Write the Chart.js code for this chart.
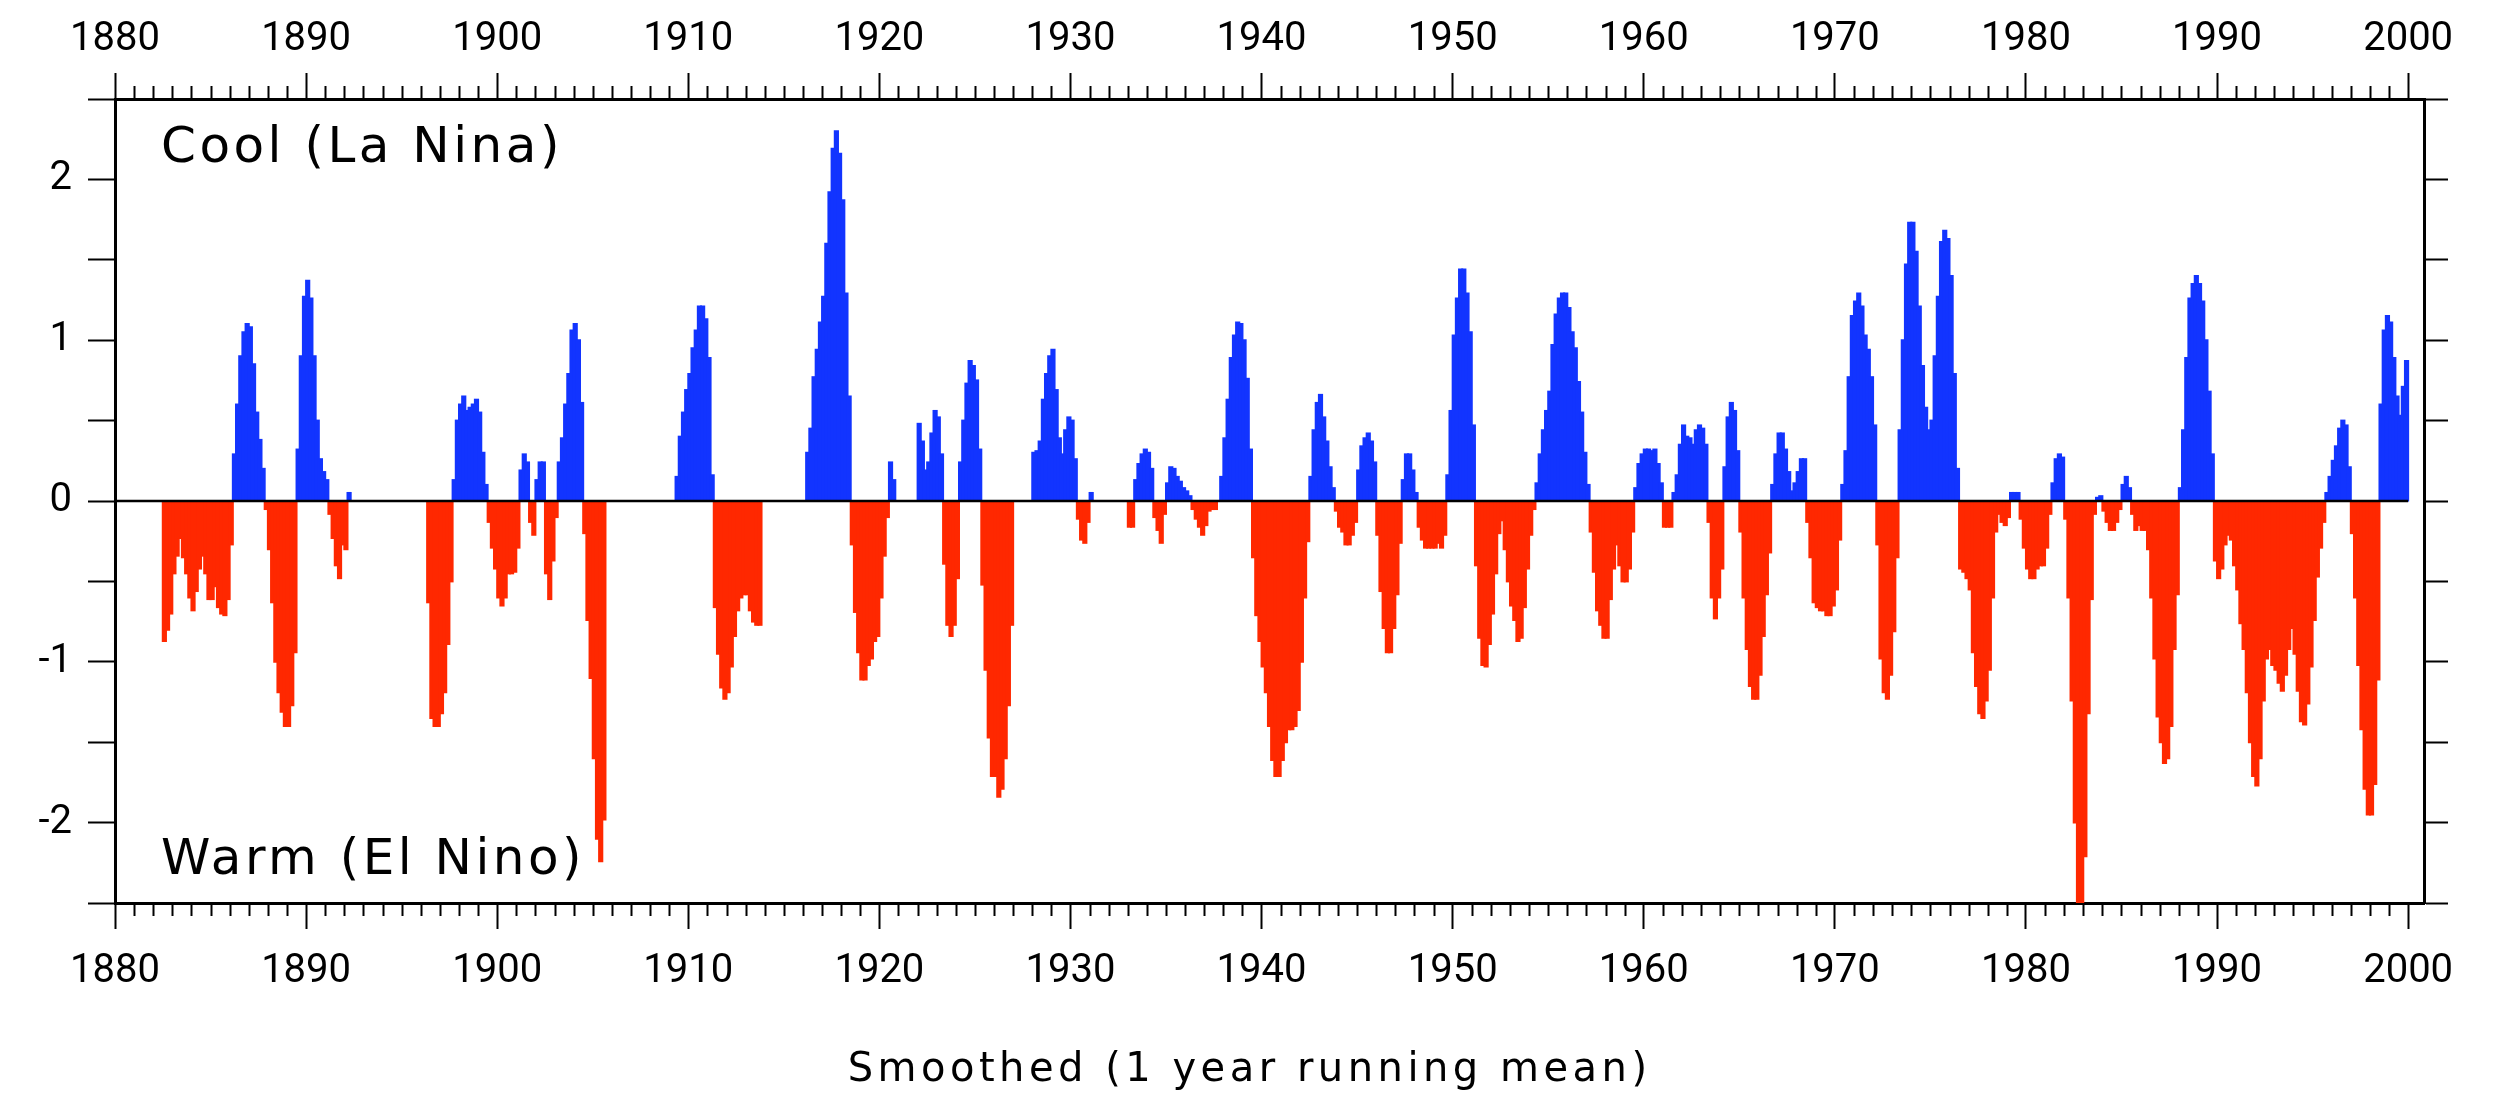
<!DOCTYPE html>
<html>
<head>
<meta charset="utf-8">
<script src="https://cdn.jsdelivr.net/npm/chart.js@4.4.1/dist/chart.umd.min.js"></script>
<style>
  html, body { margin: 0; padding: 0; background: #fff; }
  #wrap { width: 2501px; height: 1103px; }
</style>
</head>
<body>
<div id="wrap"><canvas id="soiChart" width="2501" height="1103"></canvas></div>
<script>
// Smoothed index: 6 values per year (bimonthly), null = no bar
const soi1880s = [
  null, null, null, null, null, null,
  null, null, null, null, null, null,
  null, null, null, -0.87, -0.8, -0.7,
  -0.45, -0.34, -0.23, -0.35, -0.45, -0.6,
  -0.68, -0.56, -0.42, -0.34, -0.45, -0.61,
  -0.61, -0.53, -0.66, -0.7, -0.71, -0.61,
  -0.27, 0.29, 0.6, 0.9, 1.05, 1.1,
  1.08, 0.85, 0.55, 0.38, 0.2, -0.05,
  -0.3, -0.63, -1.0, -1.19, -1.31, -1.4,
  -1.4, -1.27, -0.94, 0.32, 0.9, 1.27
];
const soi1890s = [
  1.37, 1.26, 0.9, 0.5, 0.26, 0.18,
  0.13, -0.08, -0.23, -0.4, -0.48, -0.27,
  -0.3, 0.05, null, null, null, null,
  null, null, null, null, null, null,
  null, null, null, null, null, null,
  null, null, null, null, null, null,
  null, null, -0.63, -1.35, -1.4, -1.4,
  -1.32, -1.19, -0.89, -0.5, 0.13, 0.5,
  0.6, 0.65, 0.56, 0.58, 0.6, 0.63,
  0.55, 0.3, 0.1, -0.13, -0.29, -0.42
];
const soi1900s = [
  -0.6, -0.65, -0.6, -0.45, -0.45, -0.44,
  -0.29, 0.19, 0.29, 0.24, -0.13, -0.21,
  0.13, 0.24, 0.24, -0.45, -0.61, -0.37,
  -0.1, 0.24, 0.39, 0.6, 0.79, 1.06,
  1.1, 1.0, 0.61, -0.2, -0.74, -1.1,
  -1.6, -2.1, -2.24, -1.98, null, null,
  null, null, null, null, null, null,
  null, null, null, null, null, null,
  null, null, null, null, null, null,
  null, null, 0.15, 0.4, 0.55, 0.69
];
const soi1910s = [
  0.79, 0.95, 1.06, 1.21, 1.21, 1.13,
  0.89, 0.16, -0.66, -0.95, -1.16, -1.23,
  -1.19, -1.03, -0.84, -0.68, -0.6, -0.58,
  -0.58, -0.68, -0.75, -0.77, -0.77, null,
  null, null, null, null, null, null,
  null, null, null, null, null, null,
  null, 0.3, 0.45, 0.77, 0.94, 1.11,
  1.27, 1.6, 1.92, 2.19, 2.3, 2.16,
  1.87, 1.29, 0.65, -0.27, -0.69, -0.94,
  -1.11, -1.11, -1.02, -0.98, -0.87, -0.84
];
const soi1920s = [
  -0.6, -0.34, -0.1, 0.24, 0.13, null,
  null, null, null, null, null, null,
  0.48, 0.37, 0.19, 0.24, 0.42, 0.56,
  0.52, 0.29, -0.39, -0.77, -0.84, -0.77,
  -0.48, 0.24, 0.5, 0.73, 0.87, 0.84,
  0.75, 0.32, -0.52, -1.05, -1.47, -1.71,
  -1.71, -1.84, -1.79, -1.6, -1.27, -0.77,
  null, null, null, null, null, null,
  0.3, 0.31, 0.37, 0.63, 0.79, 0.9,
  0.94, 0.69, 0.39, 0.29, 0.44, 0.52
];
const soi1930s = [
  0.5, 0.26, -0.11, -0.24, -0.26, -0.13,
  0.05, null, null, null, null, null,
  null, null, null, null, null, null,
  -0.16, -0.16, 0.13, 0.23, 0.29, 0.32,
  0.3, 0.2, -0.1, -0.18, -0.26, -0.08,
  0.11, 0.21, 0.2, 0.15, 0.12, 0.08,
  0.06, 0.03, -0.05, -0.11, -0.16, -0.21,
  -0.15, -0.06, -0.05, -0.05, null, 0.15,
  0.39, 0.63, 0.89, 1.03, 1.11, 1.1,
  1.0, 0.76, 0.32, -0.35, -0.71, -0.87
];
const soi1940s = [
  -1.03, -1.19, -1.4, -1.61, -1.71, -1.71,
  -1.61, -1.5, -1.42, -1.42, -1.4, -1.3,
  -1.0, -0.6, -0.25, 0.15, 0.44, 0.61,
  0.66, 0.52, 0.37, 0.21, 0.08, -0.06,
  -0.16, -0.19, -0.27, -0.27, -0.21, -0.13,
  0.19, 0.34, 0.39, 0.42, 0.37, 0.24,
  -0.21, -0.56, -0.79, -0.94, -0.94, -0.79,
  -0.58, -0.26, 0.13, 0.29, 0.29, 0.19,
  0.05, -0.16, -0.24, -0.29, -0.29, -0.29,
  -0.29, -0.26, -0.29, -0.21, 0.16, 0.56
];
const soi1950s = [
  1.03, 1.26, 1.44, 1.44, 1.29, 1.05,
  0.47, -0.4, -0.85, -1.02, -1.03, -0.89,
  -0.7, -0.45, -0.2, -0.12, -0.3, -0.5,
  -0.65, -0.74, -0.87, -0.85, -0.66, -0.42,
  -0.21, -0.05, 0.11, 0.29, 0.44, 0.56,
  0.68, 0.97, 1.16, 1.26, 1.29, 1.29,
  1.2, 1.05, 0.95, 0.74, 0.55, 0.3,
  0.1, -0.19, -0.44, -0.68, -0.77, -0.85,
  -0.85, -0.61, -0.42, -0.27, -0.4, -0.5,
  -0.5, -0.42, -0.19, 0.08, 0.23, 0.29
];
const soi1960s = [
  0.32, 0.32, 0.31, 0.32, 0.23, 0.11,
  -0.16, -0.16, -0.16, 0.05, 0.16, 0.35,
  0.47, 0.4, 0.39, 0.35, 0.44, 0.47,
  0.45, 0.35, -0.13, -0.6, -0.73, -0.6,
  -0.42, 0.21, 0.52, 0.61, 0.56, 0.31,
  -0.19, -0.6, -0.92, -1.15, -1.23, -1.23,
  -1.08, -0.84, -0.58, -0.32, 0.1, 0.29,
  0.42, 0.42, 0.32, 0.18, 0.06, 0.11,
  0.18, 0.26, 0.26, -0.13, -0.35, -0.63,
  -0.66, -0.68, -0.68, -0.71, -0.71, -0.65
];
const soi1970s = [
  -0.55, -0.24, 0.1, 0.31, 0.77, 1.15,
  1.24, 1.29, 1.21, 1.03, 0.94, 0.77,
  0.47, -0.27, -0.98, -1.19, -1.23, -1.08,
  -0.81, -0.35, 0.44, 1.0, 1.47, 1.73,
  1.73, 1.55, 1.21, 0.84, 0.58, 0.44,
  0.5, 0.9, 1.27, 1.61, 1.68, 1.63,
  1.4, 0.79, 0.2, -0.42, -0.44, -0.48,
  -0.55, -0.94, -1.15, -1.32, -1.35, -1.24,
  -1.05, -0.6, -0.19, -0.08, -0.13, -0.15,
  -0.1, 0.05, 0.05, 0.05, -0.11, -0.29
];
const soi1980s = [
  -0.42, -0.48, -0.48, -0.42, -0.4, -0.4,
  -0.29, -0.08, 0.11, 0.26, 0.29, 0.27,
  -0.11, -0.6, -1.24, -2.0, -2.6, -2.6,
  -2.21, -1.32, -0.61, -0.08, 0.02, 0.03,
  -0.06, -0.13, -0.18, -0.18, -0.13, -0.05,
  0.1, 0.15, 0.08, -0.08, -0.18, -0.15,
  -0.18, -0.18, -0.3, -0.6, -0.98, -1.34,
  -1.5, -1.63, -1.6, -1.4, -0.92, -0.58,
  0.08, 0.44, 0.89, 1.26, 1.35, 1.4,
  1.35, 1.24, 1.0, 0.68, 0.29, -0.37
];
const soi1990s = [
  -0.48, -0.42, -0.27, -0.21, -0.24, -0.4,
  -0.55, -0.76, -0.92, -1.19, -1.5, -1.71,
  -1.77, -1.6, -1.24, -0.98, -0.92, -1.02,
  -1.05, -1.13, -1.18, -1.08, -0.92, -0.79,
  -0.95, -1.18, -1.37, -1.39, -1.26, -1.03,
  -0.74, -0.47, -0.29, -0.13, 0.05, 0.15,
  0.25, 0.34, 0.45, 0.5, 0.47, 0.21,
  -0.2, -0.6, -1.02, -1.42, -1.79, -1.95,
  -1.95, -1.76, -1.11, 0.6, 1.06, 1.15,
  1.11, 0.89, 0.65, 0.53, 0.71, 0.87
];

const decadeStarts = [1880, 1890, 1900, 1910, 1920, 1930, 1940, 1950, 1960, 1970, 1980, 1990];
const decadeValues = [soi1880s, soi1890s, soi1900s, soi1910s, soi1920s, soi1930s,
                      soi1940s, soi1950s, soi1960s, soi1970s, soi1980s, soi1990s];
const stepsPerYear = 6;
const yearMin = 1880;
const yearMax = 2000.83;
const dataEnd = 2000;
const valueMin = -2.5;
const valueMax = 2.5;

const coolLabel = 'Cool (La Nina)';
const warmLabel = 'Warm (El Nino)';
const xTitle = 'Smoothed (1 year running mean)';

const BLUE = '#1234ff';
const RED = '#ff2800';

// build {x, y} points, each bar centred in its two-month slot
const points = [];
decadeValues.forEach((vals, d) => {
  vals.forEach((v, i) => {
    points.push({ x: decadeStarts[d] + (i + 0.5) / stepsPerYear, y: v });
  });
});

Chart.defaults.font.family = 'Roboto, "DejaVu Sans", sans-serif';
Chart.defaults.color = '#000';

const tickFont = { size: 40 };

// zero line, minor year ticks, corner labels and the x title
const decorPlugin = {
  id: 'decor',
  afterDatasetsDraw(chart) {
    const { ctx, chartArea, scales } = chart;
    const y0 = scales.y.getPixelForValue(0);
    ctx.save();
    ctx.strokeStyle = '#000';
    ctx.lineWidth = 2.5;
    ctx.beginPath();
    ctx.moveTo(scales.x.getPixelForValue(yearMin), y0);
    ctx.lineTo(scales.x.getPixelForValue(dataEnd), y0);
    ctx.stroke();

    ctx.fillStyle = '#000';
    ctx.font = '50px "DejaVu Sans"';
    ctx.letterSpacing = '3.5px';
    ctx.textBaseline = 'middle';
    ctx.textAlign = 'left';
    ctx.fillText(coolLabel, chartArea.left + 46, chartArea.top + 50);
    ctx.fillText(warmLabel, chartArea.left + 46, chartArea.bottom - 42);
    ctx.restore();
  },
  afterDraw(chart) {
    const { ctx, chartArea, scales } = chart;
    ctx.save();
    ctx.strokeStyle = '#000';
    ctx.lineWidth = 2;
    ctx.beginPath();
    for (let yr = Math.ceil(yearMin); yr <= dataEnd; yr++) {
      if (yr % 10 === 0) continue;
      const px = Math.round(scales.x.getPixelForValue(yr)) + 0.5;
      ctx.moveTo(px, chartArea.bottom);
      ctx.lineTo(px, chartArea.bottom + 13);
      ctx.moveTo(px, chartArea.top);
      ctx.lineTo(px, chartArea.top - 13);
    }
    ctx.stroke();

    // x-axis title, centred under the 1880-2000 span
    const xc = (scales.x.getPixelForValue(yearMin) + scales.x.getPixelForValue(dataEnd)) / 2 - 12;
    ctx.fillStyle = '#000';
    ctx.font = '40px "DejaVu Sans"';
    ctx.letterSpacing = '4.5px';
    ctx.textAlign = 'center';
    ctx.textBaseline = 'middle';
    ctx.fillText(xTitle, xc, chartArea.bottom + 168);
    ctx.restore();
  }
};

const xAxisCommon = {
  type: 'linear',
  min: yearMin,
  max: yearMax,
  offset: false,
  ticks: {
    stepSize: 10,
    includeBounds: false,
    autoSkip: false,
    maxRotation: 0,
    font: tickFont,
    color: '#000',
    callback: v => String(v)
  },
  grid: { offset: false, drawOnChartArea: false, tickLength: 26, tickWidth: 2, tickColor: '#000' },
  border: { color: '#000', width: 3 }
};

new Chart(document.getElementById('soiChart'), {
  type: 'bar',
  data: {
    datasets: [{
      data: points,
      backgroundColor: c => (c.raw && c.raw.y < 0 ? RED : BLUE),
      borderWidth: 0,
      barPercentage: 1.0,
      categoryPercentage: 1.0,
      inflateAmount: 1
    }]
  },
  options: {
    responsive: false,
    animation: false,
    devicePixelRatio: 1,
    layout: { padding: 0 },
    plugins: { legend: { display: false }, tooltip: { enabled: false } },
    scales: {
      x: {
        ...xAxisCommon,
        position: 'bottom',
        ticks: { ...xAxisCommon.ticks, padding: 19 },
        afterFit: s => { s.height = 200; }
      },
      xTop: {
        ...xAxisCommon,
        position: 'top',
        ticks: { ...xAxisCommon.ticks, padding: 9 },
        afterFit: s => { s.height = 99; }
      },
      y: {
        position: 'left',
        min: valueMin,
        max: valueMax,
        ticks: {
          stepSize: 0.5,
          font: tickFont,
          color: '#000',
          padding: 16,
          callback: v => (Number.isInteger(v) ? String(v) : '')
        },
        grid: { drawOnChartArea: false, tickLength: 27, tickWidth: 2, tickColor: '#000' },
        border: { color: '#000', width: 3 },
        afterFit: s => { s.width = 115; }
      },
      yRight: {
        position: 'right',
        min: valueMin,
        max: valueMax,
        ticks: { stepSize: 0.5, display: false },
        grid: { drawOnChartArea: false, tickLength: 24, tickWidth: 2, tickColor: '#000' },
        border: { color: '#000', width: 3 },
        afterFit: s => { s.width = 77; }
      }
    }
  },
  plugins: [decorPlugin]
});
</script>
</body>
</html>
